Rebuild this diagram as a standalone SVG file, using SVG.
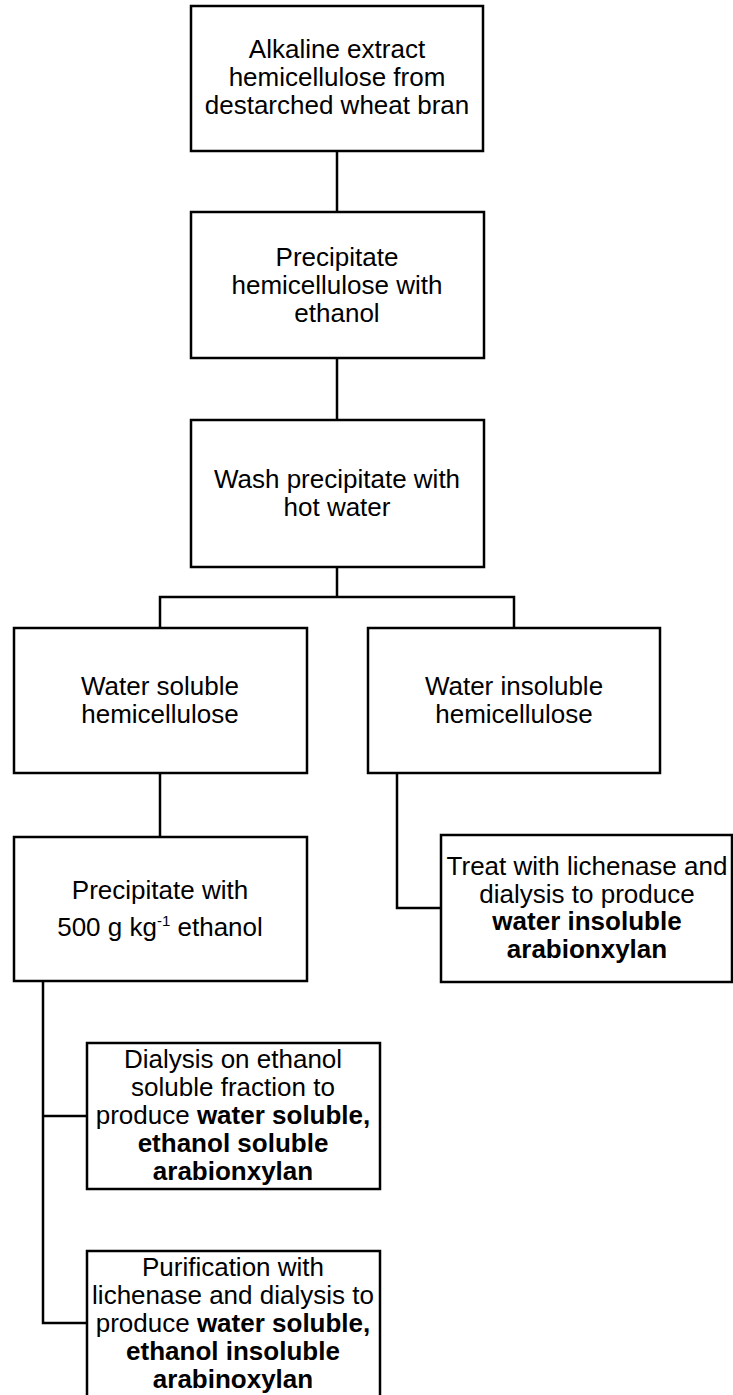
<svg xmlns="http://www.w3.org/2000/svg" width="733" height="1395" viewBox="0 0 733 1395">
<style>
.box{fill:#fff;stroke:#000;stroke-width:2.5}
.ln{fill:none;stroke:#000;stroke-width:2.5}
text{font-family:"Liberation Sans",Arial,sans-serif;font-size:26px;fill:#000;text-anchor:middle}
.b{font-weight:bold}
</style>
<rect width="733" height="1395" fill="#fff"/>
<g id="connectors">
<path class="ln" d="M337 151V212"/>
<path class="ln" d="M337 358V420"/>
<path class="ln" d="M337 567V597"/>
<path class="ln" d="M160 628V597H514V628"/>
<path class="ln" d="M160 773V837"/>
<path class="ln" d="M397 773V908H441"/>
<path class="ln" d="M43 981V1323H87"/>
<path class="ln" d="M43 1116H87"/>
</g>
<g id="n1">
<rect class="box" x="191" y="6" width="292" height="145"/>
<text x="337" y="58">Alkaline extract</text>
<text x="337" y="86">hemicellulose from</text>
<text x="337" y="114">destarched wheat bran</text>
</g>
<g id="n2">
<rect class="box" x="191" y="212" width="293" height="146"/>
<text x="337" y="266">Precipitate</text>
<text x="337" y="294">hemicellulose with</text>
<text x="337" y="322">ethanol</text>
</g>
<g id="n3">
<rect class="box" x="191" y="420" width="293" height="147"/>
<text x="337" y="488">Wash precipitate with</text>
<text x="337" y="516">hot water</text>
</g>
<g id="n4">
<rect class="box" x="14" y="628" width="293" height="145"/>
<text x="160" y="695">Water soluble</text>
<text x="160" y="723">hemicellulose</text>
</g>
<g id="n5">
<rect class="box" x="368" y="628" width="292" height="145"/>
<text x="514" y="695">Water insoluble</text>
<text x="514" y="723">hemicellulose</text>
</g>
<g id="n6">
<rect class="box" x="14" y="837" width="293" height="144"/>
<text x="160" y="899">Precipitate with</text>
<text x="160" y="936">500 g kg<tspan font-size="15" dy="-10">-1</tspan><tspan dy="10"> ethanol</tspan></text>
</g>
<g id="n7">
<rect class="box" x="441" y="835" width="291" height="147"/>
<text x="587" y="875">Treat with lichenase and</text>
<text x="587" y="903">dialysis to produce</text>
<text x="587" y="930" class="b">water insoluble</text>
<text x="587" y="958" class="b">arabionxylan</text>
</g>
<g id="n8">
<rect class="box" x="87" y="1043" width="293" height="146"/>
<text x="233" y="1068">Dialysis on ethanol</text>
<text x="233" y="1096">soluble fraction to</text>
<text x="233" y="1124">produce <tspan class="b">water soluble,</tspan></text>
<text x="233" y="1152" class="b">ethanol soluble</text>
<text x="233" y="1180" class="b">arabionxylan</text>
</g>
<g id="n9">
<rect class="box" x="87" y="1251" width="293" height="160"/>
<text x="233" y="1276">Purification with</text>
<text x="233" y="1304">lichenase and dialysis to</text>
<text x="233" y="1332">produce <tspan class="b">water soluble,</tspan></text>
<text x="233" y="1360" class="b">ethanol insoluble</text>
<text x="233" y="1388" class="b">arabinoxylan</text>
</g>
</svg>
